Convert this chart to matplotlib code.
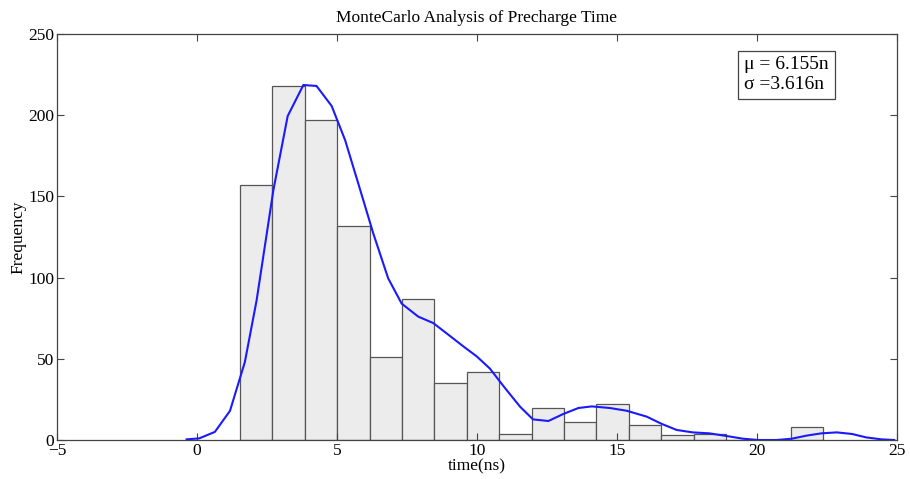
import matplotlib
matplotlib.use("Agg")
import matplotlib.pyplot as plt
import numpy as np

plt.rcParams['font.family'] = ['Liberation Serif', 'DejaVu Serif']

# histogram bins (left edge, width) and counts
bin_start = 1.54
bin_width = 1.157
counts = [157, 218, 197, 132, 51, 87, 35, 42, 4, 20, 11, 22, 9, 3, 4, 0, 0, 8]

# fitted density curve (scaled to counts)
curve_x = [-0.37, 0.08, 0.64, 1.18, 1.71, 2.13, 2.73, 3.24, 3.8, 4.27, 4.81, 5.29,
           5.76, 6.3, 6.83, 7.31, 7.9, 8.44, 9.04, 9.51, 9.99, 10.46, 11.0, 11.54,
           12.0, 12.55, 13.08, 13.62, 14.1, 14.75, 15.35, 16.06, 16.6, 17.13, 17.7,
           18.3, 18.9, 19.5, 20.05, 20.7, 21.24, 21.77, 22.3, 22.85, 23.4, 23.9,
           24.45, 24.9]
curve_y = [0.4, 1, 5, 18, 48, 86, 154, 199.5, 218.6, 218, 205.7, 184.7,
           158, 127, 99.5, 84, 76, 72, 64, 57.7, 51.5, 44, 32, 20.5,
           12.7, 11.7, 16, 19.7, 20.7, 19.7, 18, 14.4, 9.9, 6.2, 4.7,
           4.1, 2.5, 0.8, 0, 0, 0.8, 2.7, 4.1, 4.7, 3.7, 1.6,
           0.4, 0]

fig = plt.figure(figsize=(9.1, 4.79), dpi=100)
ax = fig.add_axes([0.0626, 0.0814, 0.9231, 0.8476])

lefts = bin_start + bin_width * np.arange(len(counts))
ax.bar(lefts, counts, width=bin_width, align='edge', color='#ececec',
       edgecolor='#555555', linewidth=0.9)
ax.plot(curve_x, curve_y, color='#1a1aff', linewidth=1.5)

ax.set_xlim(-5, 25)
ax.set_ylim(0, 250)
ax.set_xticks(np.arange(-5, 26, 5))
ax.set_yticks(np.arange(0, 251, 50))
ax.tick_params(direction='in', top=True, right=True, length=5, labelsize=12.5,
               color='#444444', pad=2)
for s in ax.spines.values():
    s.set_color('#444444')
    s.set_linewidth(0.9)

ax.set_title('MonteCarlo Analysis of Precharge Time', fontsize=12.5, pad=9)
ax.set_xlabel('time(ns)', fontsize=12.5, labelpad=0)
ax.set_ylabel('Frequency', fontsize=12.5, labelpad=1)

ax.text(0.818, 0.945, 'μ = 6.155n\nσ =3.616n', transform=ax.transAxes,
        fontsize=14, va='top', ha='left', linespacing=1.2,
        bbox=dict(boxstyle='square,pad=0.3', facecolor='white',
                  edgecolor='#444444', linewidth=0.9))

fig.savefig('out.png', dpi=100)
